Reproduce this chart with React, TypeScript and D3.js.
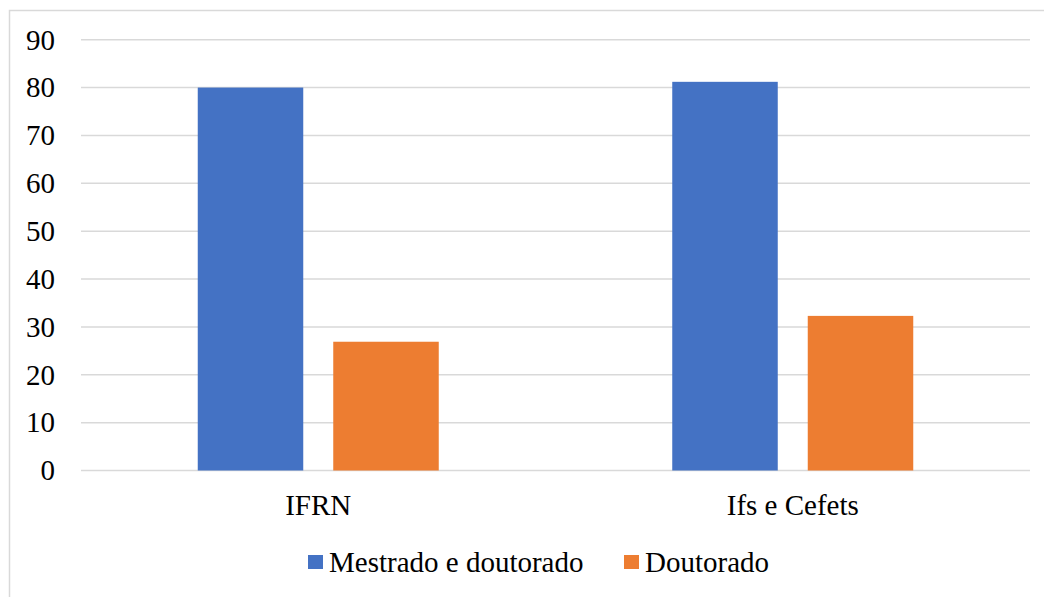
import * as d3 from "d3"

const categories = ["IFRN", "Ifs e Cefets"]
const seriesNames = ["Mestrado e doutorado", "Doutorado"]
const mestradoDoutorado = [80, 81.2]
const doutorado = [26.9, 32.3]
const yTicks = [0, 10, 20, 30, 40, 50, 60, 70, 80, 90]
const colors = ["#4472C4", "#ED7D31"]

export default function App() {
  const width = 1044
  const height = 597
  const left = 81
  const right = 1030
  const top = 39.7
  const bottom = 470.5
  const font = { fontFamily: "'Liberation Serif', 'Times New Roman', serif" }
  const fs = 29

  const x = d3.scaleBand<string>().domain(categories).range([left, right])
  const mid = x.bandwidth() / 2
  const inner = d3
    .scaleBand<number>()
    .domain([0, 1])
    .range([mid - 120.5, mid + 120.5])
    .paddingInner(30 / 135.5)
  const y = d3.scaleLinear().domain([0, 90]).range([bottom, top])

  const series = [mestradoDoutorado, doutorado]

  return (
    <svg
      width={width}
      height={height}
      style={{ position: "absolute", left: 0, top: 0, background: "#fff" }}
    >
      <rect x={9.5} y={10.5} width={1050} height={600} fill="#fff" stroke="#d9d9d9" strokeWidth={1.5} />
      {yTicks.map((t) => (
        <g key={t}>
          <line x1={left} x2={right} y1={y(t)} y2={y(t)} stroke="#d9d9d9" strokeWidth={1.5} />
          <text x={55} y={y(t)} dy="0.34em" textAnchor="end" style={font} fontSize={fs} fill="#000">
            {t}
          </text>
        </g>
      ))}
      {categories.map((c, i) => (
        <g key={c}>
          {series.map((s, j) => (
            <rect
              key={j}
              x={(x(c) || 0) + (inner(j) || 0)}
              y={y(s[i])}
              width={inner.bandwidth()}
              height={bottom - y(s[i])}
              fill={colors[j]}
            />
          ))}
          <text
            x={(x(c) || 0) + mid}
            y={515}
            textAnchor="middle"
            style={font}
            fontSize={fs}
            fill="#000"
          >
            {c}
          </text>
        </g>
      ))}
      {seriesNames.map((n, j) => {
        const lx = j === 0 ? 308 : 624
        return (
          <g key={n}>
            <rect x={lx} y={555} width={15} height={14} fill={colors[j]} />
            <text x={lx + 21} y={572} style={font} fontSize={fs} fill="#000">
              {n}
            </text>
          </g>
        )
      })}
    </svg>
  )
}
